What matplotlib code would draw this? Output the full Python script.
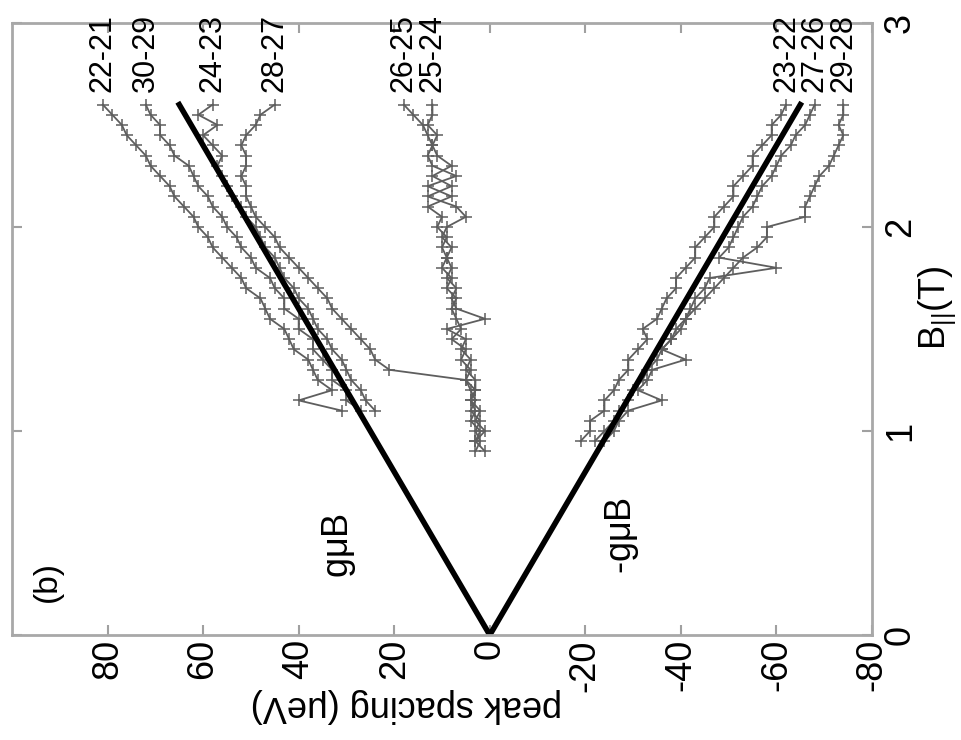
import numpy as np
import matplotlib
matplotlib.use('Agg')
import matplotlib.pyplot as plt

plt.rcParams['font.family'] = ['Liberation Sans', 'DejaVu Sans']
plt.rcParams['mathtext.default'] = 'regular'

nan = np.nan

# parallel field (T), shared by all traces
b_field = [0.90, 0.95, 1.00, 1.05, 1.10, 1.15, 1.20, 1.25, 1.30, 1.35,
           1.40, 1.45, 1.50, 1.55, 1.60, 1.65, 1.70, 1.75, 1.80, 1.85,
           1.90, 1.95, 2.00, 2.05, 2.10, 2.15, 2.20, 2.25, 2.30, 2.35,
           2.40, 2.45, 2.50, 2.55, 2.60]

# peak spacing (ueV) for each pair of peaks
sp_22_21 = [nan, nan, nan, nan, 31, 40, 33, 36, 37, 38,
            41, 42, 43, 46, 47, 48, 51, 52, 54, 56,
            58, 59, 61, 62, 64, 66, 67, 69, 71, 72,
            74, 76, 77, 79, 81]
sp_30_29 = [nan, nan, nan, nan, 27, 30, 30, 33, 33, 35,
            37, 37, 40, 40, 43, 43, 45, 46, 49, 50,
            52, 53, 55, 56, 58, 59, 61, 62, 63, 66,
            67, 69, 69, 71, 72]
sp_24_23 = [nan, nan, nan, nan, 24, 26, 27, 29, 30, 31,
            33, 34, 36, 37, 38, 40, 41, 43, 44, 45,
            47, 48, 49, 51, 52, 54, 55, 56, 57, 56,
            58, 60, 57, 61, 58]
sp_28_27 = [nan, 3, 2, 4, 3, 4, 3, 5, 21, 24,
            25, 27, 29, 31, 33, 34, 36, 38, 40, 42,
            44, 45, 47, 49, 50, 51, 51, 52, 51, 51,
            52, 51, 49, 48, 45]
sp_26_25 = [3, 2, 3, 2, 4, 3, 4, 5, 4, 6,
            5, 8, 6, 7, 8, 7, 9, 8, 10, 9,
            10, 9, 11, 10, 13, 8, 13, 7, 12, 13,
            12, 13, 14, 16, 18]
sp_25_24 = [1, 3, 1, 3, 2, 4, 3, 3, 5, 4,
            6, 5, 9, 1, 7, 8, 7, 9, 8, 9,
            8, 10, 9, 5, 7, 13, 8, 12, 8, 11,
            12, 11, 13, 12, 12]
sp_23_22 = [nan, -19, -21, -21, -24, -24, -26, -27, -29, -29,
            -31, -33, -32, -35, -36, -37, -39, -39, -41, -43,
            -43, -45, -47, -47, -49, -51, -51, -53, -55, -55,
            -57, -59, -59, -61, -62]
sp_27_26 = [nan, -24, -26, -27, -29, -36, -31, -33, -34, -41,
            -36, -38, -39, -41, -42, -43, -45, -46, -60, -48,
            -50, -51, -52, -53, -55, -56, -57, -59, -60, -61,
            -63, -64, -66, -67, -68]
sp_29_28 = [nan, -22, -24, -26, -27, -29, -30, -32, -33, -35,
            -36, -38, -40, -41, -43, -45, -47, -49, -51, -53,
            -56, -58, -58, -66, -66, -67, -68, -69, -71, -72,
            -73, -74, -73, -74, -74]

pair_names = ['22-21', '30-29', '24-23', '28-27', '26-25', '25-24',
              '23-22', '27-26', '29-28']
pair_data = [sp_22_21, sp_30_29, sp_24_23, sp_28_27, sp_26_25, sp_25_24,
             sp_23_22, sp_27_26, sp_29_28]

# Zeeman splitting lines, g*muB in ueV/T
g_muB = 25.0
b_end = 2.6

spacing_ticks = [80, 60, 40, 20, 0, -20, -40, -60, -80]
b_ticks = [0, 1, 2, 3]

fig = plt.figure(figsize=(9.62, 7.40), dpi=100)
ax = fig.add_axes([12 / 962, 1 - 635 / 740, 860 / 962, 612 / 740])

# the panel is drawn turned on its side: field runs up, spacing runs left
for name, vals in zip(pair_names, pair_data):
    vals = np.array(vals, dtype=float)
    ax.plot(vals, b_field, color='#5e5e5e', lw=1.3, marker='+', ms=8,
            mew=1.1)
    ax.text(vals[-1], 2.66, name, rotation=90, ha='center', va='bottom',
            fontsize=22, clip_on=False)

ax.plot([g_muB * b_end, 0, -g_muB * b_end], [b_end, 0, b_end], color='k',
        lw=4, solid_joinstyle='miter')

ax.text(31.5, 0.44, r'g$\mu$B', rotation=90, ha='center', va='center',
        fontsize=26)
ax.text(-27.7, 0.49, r'-g$\mu$B', rotation=90, ha='center', va='center',
        fontsize=26)
ax.text(92.6, 0.26, '(b)', rotation=90, ha='center', va='center',
        fontsize=24)

ax.set_xlim(100, -80)
ax.set_ylim(0, 3)
ax.set_xticks(spacing_ticks)
ax.set_xticklabels([str(t) for t in spacing_ticks], rotation=90)
ax.set_yticks(b_ticks)
ax.set_yticklabels([str(t) for t in b_ticks], rotation=90, va='center')

ax.tick_params(axis='both', direction='in', length=7, width=1.5,
               color='#a0a0a0', labelsize=26)
ax.tick_params(axis='x', top=True, bottom=True, pad=3)
ax.tick_params(axis='y', left=True, right=True, labelleft=False,
               labelright=True, pad=8)
for sp in ax.spines.values():
    sp.set_color('#a8a8a8')
    sp.set_linewidth(2)

ax.text(0.458, -0.116, 'peak spacing (μeV)', rotation=180, ha='center',
        va='center', fontsize=26, transform=ax.transAxes)
ax.text(1.0756, 0.535, r'$B_{||}$(T)', rotation=90, ha='center',
        va='center', fontsize=26, transform=ax.transAxes)

fig.savefig('out.png', dpi=100)
